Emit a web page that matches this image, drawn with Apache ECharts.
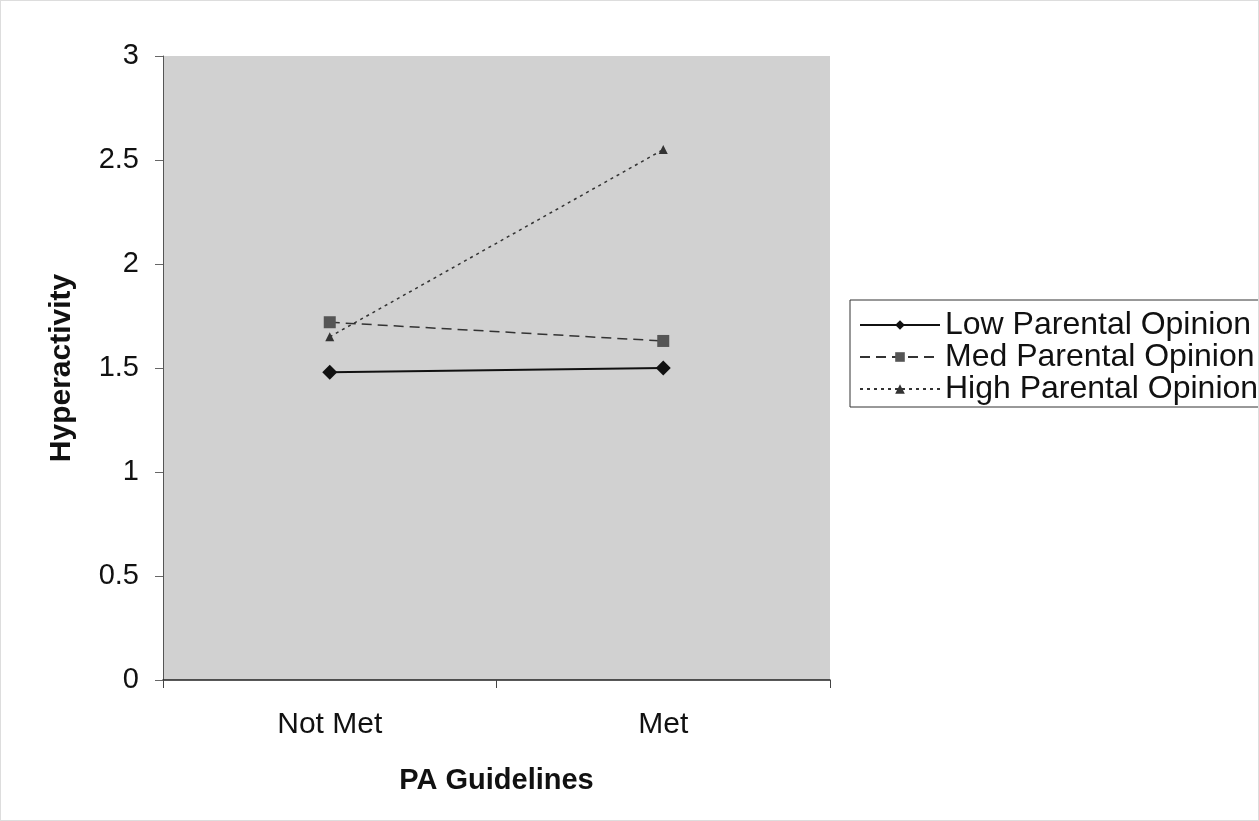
<!DOCTYPE html>
<html><head><meta charset="utf-8">
<script src="https://cdn.jsdelivr.net/npm/echarts@6/dist/echarts.min.js"></script>
<style>html,body{margin:0;padding:0;background:#fff}#c{width:1259px;height:821px;box-sizing:border-box;border:1px solid #ddd}</style>
</head><body><div id="c"></div>
<script>
const categories = ["Not Met", "Met"];
const lowParental = [1.48, 1.50];
const medParental = [1.72, 1.63];
const highParental = [1.65, 2.55];
const seriesNames = ["Low Parental Opinion", "Med Parental Opinion", "High Parental Opinion"];

const chart = echarts.init(document.getElementById('c'));
const font = 'Liberation Sans, Arial, sans-serif';
chart.setOption({
  backgroundColor: '#fff',
  grid: {left: 162, top: 55, width: 667, height: 624, backgroundColor: '#d1d1d1', show: true, borderWidth: 0},
  legend: {
    orient: 'vertical', left: 849, top: 299,
    data: seriesNames,
    itemWidth: 80, itemHeight: 12, itemGap: 0,
    padding: [9, 6, 2, 9],
    borderColor: '#333', borderWidth: 1, backgroundColor: '#fff',
    textStyle: {fontFamily: font, fontSize: 32, color: '#111', lineHeight: 32}
  },
  xAxis: {
    type: 'category', data: categories, boundaryGap: true,
    axisLine: {lineStyle: {color: '#222', width: 1.5}},
    axisTick: {show: true, length: 8, lineStyle: {color: '#444'}},
    axisLabel: {fontFamily: font, fontSize: 30, color: '#111', margin: 30},
    name: 'PA Guidelines', nameLocation: 'middle', nameGap: 86,
    nameTextStyle: {fontFamily: font, fontSize: 29, fontWeight: 'bold', color: '#111'}
  },
  yAxis: {
    type: 'value', min: 0, max: 3, interval: 0.5,
    axisLine: {show: true, lineStyle: {color: '#555', width: 1}},
    axisTick: {show: true, length: 8, lineStyle: {color: '#666'}},
    splitLine: {show: false},
    axisLabel: {fontFamily: font, fontSize: 29, color: '#111', margin: 24},
    name: 'Hyperactivity', nameLocation: 'middle', nameGap: 86, nameRotate: 90,
    nameTextStyle: {fontFamily: font, fontSize: 30, fontWeight: 'bold', color: '#111'}
  },
  series: [
    {name: seriesNames[0], type: 'line', data: lowParental, symbol: 'diamond', symbolSize: 15,
     itemStyle: {color: '#111'}, lineStyle: {color: '#111', width: 2, type: 'solid'}},
    {name: seriesNames[1], type: 'line', data: medParental, symbol: 'rect', symbolSize: 12,
     itemStyle: {color: '#555'}, lineStyle: {color: '#333', width: 1.5, type: [10, 6]}},
    {name: seriesNames[2], type: 'line', data: highParental, symbol: 'triangle', symbolSize: 9,
     itemStyle: {color: '#333'}, lineStyle: {color: '#333', width: 1.5, type: [3, 4]}}
  ]
});
</script></body></html>
